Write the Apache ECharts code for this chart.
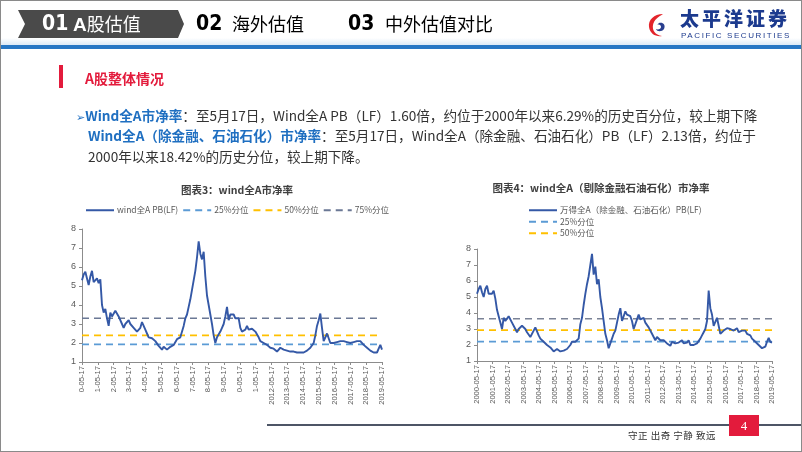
<!DOCTYPE html>
<html><head><meta charset="utf-8">
<script src="https://cdn.jsdelivr.net/npm/echarts@6/dist/echarts.min.js"></script>
<style>
html,body{margin:0;padding:0;background:#fff;}
#wrap{position:relative;width:802px;height:452px;overflow:hidden;background:#fff;font-family:"Noto Sans CJK SC","Noto Sans",sans-serif;}
#chart{position:absolute;left:0;top:0;width:802px;height:452px;}
.abs{position:absolute;white-space:nowrap;}
#frame{position:absolute;left:0;top:0;width:800px;height:450px;border:1px solid #8a8a8a;pointer-events:none;}
#chev{position:absolute;left:18px;top:10px;width:166px;height:28px;background:#4a4a4a;clip-path:polygon(0 0,160px 0,166px 14px,160px 28px,0 28px,7px 14px);}
.num{font-family:"Liberation Sans Narrow","DejaVu Sans Condensed",sans-serif;font-weight:bold;font-size:21px;}
.hz{font-size:18px;}
#band{position:absolute;left:0;top:38px;width:802px;height:7px;background:linear-gradient(#ffffff,#dbe9f6);}
#bline{position:absolute;left:0;top:45px;width:802px;height:4px;background:#2676c4;}
.p{font-size:13.6px;color:#333;}
.b{color:#1f6fc1;font-weight:bold;}
</style></head>
<body><div id="wrap">
<div id="chart"></div>
<div id="band"></div><div id="bline"></div>
<div id="chev"></div>
<div class="abs num" style="left:42px;top:11px;color:#fff;">01</div>
<div class="abs hz" style="left:73px;top:10px;color:#fff;"><b style="font-family:'Liberation Sans',sans-serif;font-size:19px;">A</b>股估值</div>
<div class="abs num" style="left:196px;top:11px;color:#000;">02</div>
<div class="abs hz" style="left:232px;top:10px;color:#000;">海外估值</div>
<div class="abs num" style="left:348px;top:11px;color:#000;">03</div>
<div class="abs hz" style="left:385px;top:10px;color:#000;">中外估值对比</div>
<svg class="abs" style="left:646px;top:12px;" width="26" height="26" viewBox="0 0 26 26">
<path d="M17 2 C8 2 2 8 3 15 C4 22 10 25 16 24 C9 23 6 18 7 13 C8 8 12 5 17 2 Z" fill="#e3242b"/>
<path d="M13 11 C17 10 20 13 18 17 C16 20 11 20 10 17 C12 18 15 17 15 15 C15 13 13 12 11 13 Z" fill="#2a3f8f"/>
</svg>
<div class="abs" style="left:680px;top:6px;font-size:19px;font-weight:900;color:#1c3a8e;letter-spacing:3px;line-height:24px;">太平洋证券</div>
<div class="abs" style="left:681px;top:31px;font-size:8px;color:#1c3a8e;letter-spacing:1.6px;line-height:10px;font-family:'Liberation Sans',sans-serif;">PACIFIC SECURITIES</div>
<div class="abs" style="left:59px;top:65px;width:4px;height:23px;background:#e31b3c;"></div>
<div class="abs" style="left:85px;top:68px;font-size:14px;font-weight:bold;color:#e31b3c;">A股整体情况</div>
<div class="abs p" style="left:76px;top:105px;"><span style="color:#1f6fc1;font-family:'DejaVu Sans';font-size:11px;">➢</span><span class="b">Wind全A市净率</span>：至5月17日，Wind全A PB（LF）1.60倍，约位于2000年以来6.29%的历史百分位，较上期下降</div>
<div class="abs p" style="left:88px;top:125px;"><span class="b">Wind全A（除金融、石油石化）市净率</span>：至5月17日，Wind全A（除金融、石油石化）PB（LF）2.13倍，约位于</div>
<div class="abs p" style="left:88px;top:146px;">2000年以来18.42%的历史分位，较上期下降。</div>
<div class="abs" style="left:267px;top:424px;width:535px;height:2px;background:#4d5566;"></div>
<div class="abs" style="left:729px;top:415px;width:30px;height:21px;background:#e31b3c;color:#fff;font-size:13px;text-align:center;line-height:21px;font-family:'Liberation Serif',serif;">4</div>
<div class="abs" style="left:628px;top:428px;font-size:9.5px;color:#333;letter-spacing:0.5px;">守正 出奇 宁静 致远</div>
<div id="frame"></div>
</div>
<script>
// ---------- data ----------
const tickLabels1 = ['0-05-17','1-05-17','2-05-17','3-05-17','4-05-17','5-05-17','6-05-17','7-05-17','8-05-17','9-05-17','0-05-17','1-05-17','2012-05-17','2013-05-17','2014-05-17','2015-05-17','2016-05-17','2017-05-17','2018-05-17','2019-05-17'];
const tickLabels2 = ['2000-05-17','2001-05-17','2002-05-17','2003-05-17','2004-05-17','2005-05-17','2006-05-17','2007-05-17','2008-05-17','2009-05-17','2010-05-17','2011-05-17','2012-05-17','2013-05-17','2014-05-17','2015-05-17','2016-05-17','2017-05-17','2018-05-17','2019-05-17'];
const spanYears = 19; // 2000-05-17 .. 2019-05-17, values evenly spaced
const pbAll = [5.3,5.6,5.75,5.4,5.05,5.5,5.8,5.2,5.3,5.4,5.15,5.35,4.0,3.6,3.8,3.3,2.9,3.6,3.4,3.5,3.7,3.6,3.4,3.3,3.0,2.8,3.0,2.9,3.2,3.0,3.0,2.8,2.7,2.6,2.5,2.8,3.1,3.15,2.7,2.5,2.3,2.2,2.25,2.2,2.1,2.0,1.85,1.75,1.65,1.8,1.8,1.65,1.7,1.8,1.85,1.9,2.0,2.2,2.2,2.3,2.4,2.9,3.3,3.5,3.9,4.3,4.8,5.3,5.8,6.5,7.35,6.7,6.4,6.8,5.5,4.5,4.0,3.5,3.0,2.4,2.0,2.3,2.3,2.6,2.8,3.0,3.4,3.9,3.2,3.5,3.4,3.5,3.3,3.3,3.3,2.8,2.6,2.7,2.7,2.9,2.7,2.7,2.75,2.8,2.6,2.5,2.3,2.1,2.2,2.0,1.95,1.9,1.8,1.75,1.72,1.7,1.6,1.55,1.65,1.75,1.7,1.65,1.62,1.6,1.58,1.55,1.55,1.55,1.52,1.5,1.55,1.5,1.45,1.5,1.55,1.6,1.7,1.75,1.8,2.0,2.4,2.9,3.2,3.55,2.8,2.1,2.3,2.5,2.6,2.0,2.1,2.0,2.05,2.05,2.1,2.1,2.1,2.1,2.08,2.05,2.0,2.0,2.02,2.05,2.1,2.1,2.1,2.1,2.0,1.9,1.8,1.75,1.65,1.6,1.55,1.5,1.45,1.5,1.7,1.9,1.65];
const pbExFin = [5.2,5.5,5.7,5.3,5.0,5.5,5.7,5.2,5.3,5.2,5.4,4.9,4.2,3.8,3.4,3.0,3.7,3.5,3.4,3.8,3.7,3.4,3.3,3.0,2.8,3.0,3.1,3.2,3.1,3.0,2.8,2.7,2.5,2.6,2.9,3.1,3.2,2.6,2.4,2.3,2.2,2.1,2.0,1.9,1.85,1.75,1.6,1.7,1.75,1.8,1.6,1.55,1.65,1.7,1.75,1.8,2.0,2.2,2.1,2.2,2.2,2.4,3.3,3.7,4.5,5.2,5.8,6.3,7.0,7.7,6.4,6.9,5.8,6.1,5.0,4.3,3.5,2.7,2.3,1.8,2.1,2.4,2.7,2.9,3.4,3.9,4.3,3.5,3.8,4.1,3.9,4.0,3.8,3.5,3.0,3.3,3.6,3.9,3.6,3.5,3.7,3.4,3.5,3.1,3.0,2.7,2.5,2.3,2.5,2.4,2.3,2.3,2.3,2.2,2.1,2.0,1.95,2.2,2.3,2.1,2.2,2.15,2.1,2.3,2.1,2.2,2.15,2.3,2.0,2.1,2.0,2.05,2.1,2.2,2.4,2.6,2.8,3.0,3.5,5.4,4.3,3.9,3.2,3.1,3.7,3.8,2.7,2.8,2.9,3.0,3.05,3.1,3.0,3.0,2.9,3.0,3.05,2.8,2.75,2.9,2.85,2.9,2.7,2.6,2.6,2.4,2.3,2.2,2.1,2.0,1.9,1.8,1.85,1.9,2.2,2.45,2.2,2.15];
const pct1 = {p25:1.93, p50:2.40, p75:3.30};
const pct2 = {p25:2.21, p50:2.93, p75:3.64};
const names1 = ['wind全A PB(LF)','25%分位','50%分位','75%分位'];
const names2 = ['万得全A（除金融、石油石化）PB(LF)','25%分位','50%分位','75%分位'];

// ---------- build ----------
const toPts = arr => arr.map((v,i)=>[i*spanYears/(arr.length-1), v]);
const flat = v => [[0,v],[spanYears,v]];
const C_MAIN='#3458a6', C25='#5b9bd5', C50='#ffc000', C75='#6b7895';
const axisGray='#8c8c8c', txtGray='#595959';
function xAx(idx, labels){return {gridIndex:idx,type:'value',min:0,max:spanYears,interval:1,
  axisLine:{lineStyle:{color:axisGray}},axisTick:{show:true,length:3,lineStyle:{color:axisGray}},splitLine:{show:false},
  axisLabel:{rotate:90,fontSize:7.6,color:txtGray,margin:4,fontFamily:'Liberation Sans',formatter:v=>labels[Math.round(v)]}};}
function yAx(idx){return {gridIndex:idx,type:'value',min:1,max:8,interval:1,
  axisLine:{show:true,lineStyle:{color:axisGray}},axisTick:{show:true,length:3,lineStyle:{color:axisGray}},splitLine:{show:false},
  axisLabel:{fontSize:9,color:txtGray,margin:6,fontFamily:'Liberation Sans'}};}
function dash(name,idx,v,color){return {name,type:'line',xAxisIndex:idx,yAxisIndex:idx,data:flat(v),showSymbol:false,symbol:'none',
  lineStyle:{color,width:1.6,type:[7,5]},itemStyle:{color},z:1,animation:false};}
const legendCommon = {itemWidth:28,itemHeight:8,itemStyle:{opacity:0,borderWidth:0},
  textStyle:{fontSize:8.5,color:txtGray,fontFamily:'Noto Sans CJK SC',padding:[0,0,0,-2]}};
const chart = echarts.init(document.getElementById('chart'),null,{renderer:'canvas'});
chart.setOption({
  animation:false,
  title:[
    {text:'图表3：wind全A市净率',left:232,top:180,textAlign:'center',textStyle:{fontSize:10.5,fontWeight:'bold',color:'#404040',fontFamily:'Noto Sans CJK SC'}},
    {text:'图表4：wind全A（剔除金融石油石化）市净率',left:596,top:178,textAlign:'center',textStyle:{fontSize:10.5,fontWeight:'bold',color:'#404040',fontFamily:'Noto Sans CJK SC'}}
  ],
  legend:[
    Object.assign({data:names1.map(n=>({name:n})),left:80,top:201,itemGap:4},legendCommon),
    Object.assign({data:names2.slice(0,3).map(n=>({name:n})),orient:'vertical',left:523,top:201,itemGap:3},legendCommon)
  ],
  grid:[
    {left:82,top:229,width:300,height:133},
    {left:477,top:249,width:295,height:112}
  ],
  xAxis:[xAx(0,tickLabels1),xAx(1,tickLabels2)],
  yAxis:[yAx(0),yAx(1)],
  series:[
    dash(names1[1],0,pct1.p25,C25),dash(names1[2],0,pct1.p50,C50),dash(names1[3],0,pct1.p75,C75),
    {name:names1[0],type:'line',xAxisIndex:0,yAxisIndex:0,data:toPts(pbAll),showSymbol:false,symbol:'none',
      lineStyle:{color:C_MAIN,width:1.9},itemStyle:{color:C_MAIN},z:3},
    dash(names2[1],1,pct2.p25,C25),dash(names2[2],1,pct2.p50,C50),dash(names2[3],1,pct2.p75,'#7a8296'),
    {name:names2[0],type:'line',xAxisIndex:1,yAxisIndex:1,data:toPts(pbExFin),showSymbol:false,symbol:'none',
      lineStyle:{color:C_MAIN,width:1.9},itemStyle:{color:C_MAIN},z:3}
  ]
});
</script>
</body></html>
